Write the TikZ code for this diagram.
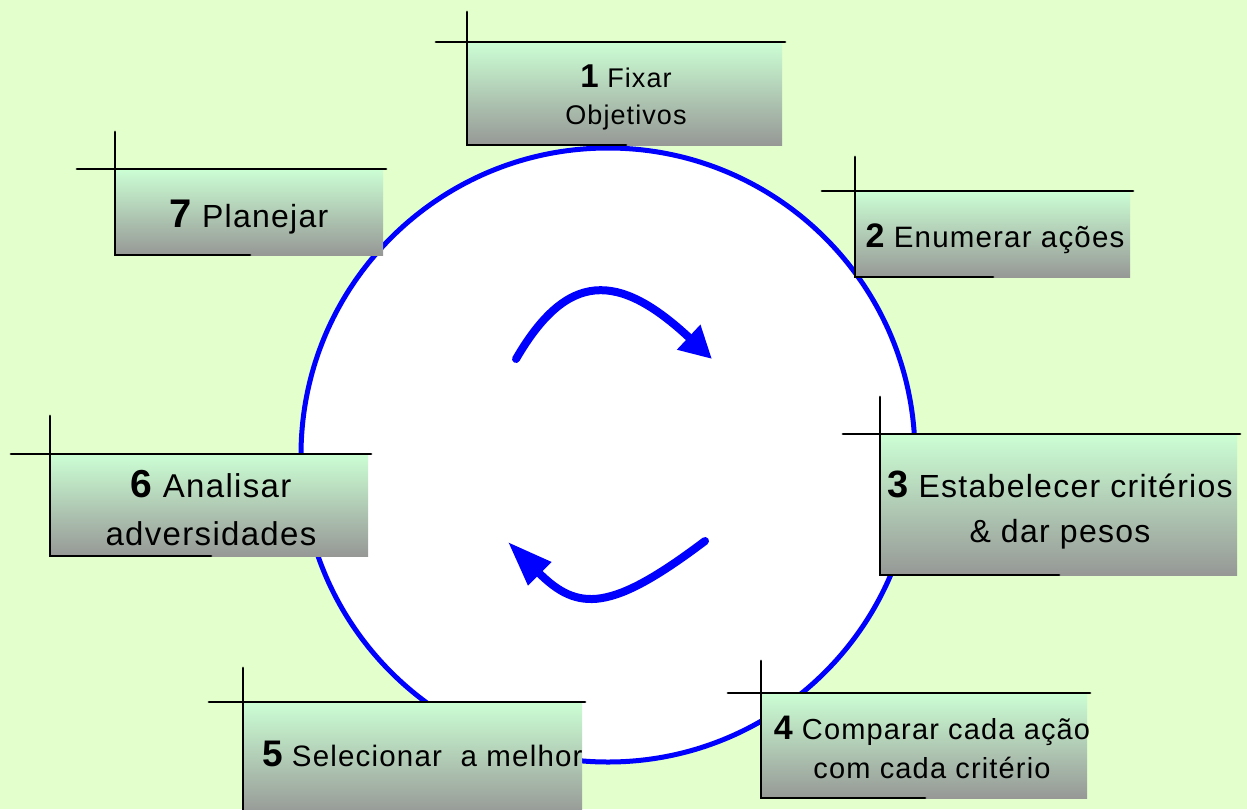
\documentclass[tikz,border=0pt]{standalone}
\usepackage{fontspec}
\setmainfont{Liberation Sans}[LetterSpace=4]
\usetikzlibrary{arrows.meta}
\definecolor{bg}{RGB}{226,255,204}
\definecolor{boxtop}{RGB}{204,255,212}
\definecolor{boxbot}{RGB}{150,152,150}
\definecolor{cblue}{RGB}{0,0,255}
\tikzset{
  boxfill/.style={top color=boxtop, bottom color=boxbot, draw=none, inner sep=0pt, outer sep=0pt},
  rule/.style={line width=2.8pt, black, line cap=round},
  ring/.style={circle, draw=cblue, line width=5pt, fill=white, inner sep=0pt, outer sep=0pt},
  flow/.style={draw=cblue, line width=8pt, line cap=round},
  lbl/.style={anchor=base, inner sep=0pt, outer sep=0pt},
}
\newcommand\num[2]{{\fontsize{#1}{#1}\selectfont\bfseries #2}}
% name, L, T, R, B, vertical top, top-line left, bottom-line end
\newcommand\cbox[8]{%
  \node[boxfill, anchor=north west, minimum width={#4-#2}, minimum height={#5-#3}] (#1) at (#2,-#3) {};
  \draw[rule] (#2,-#6) -- (#2,-#5) -- (#8,-#5);
  \draw[rule] (#7,-#3) -- ({#4+3},-#3);
}
\begin{document}
\begin{tikzpicture}[x=1pt,y=1pt]
\clip (0,0) rectangle (1247,-809);
\fill[bg] (0,0) rectangle (1247,-809);

% cycle ring
\node[ring, minimum size=614pt] (ring) at (608,-455) {};

% inner arrows
\coordinate (a1s) at (516,-359);
\coordinate (a1e) at (712,-359);
\coordinate (a2s) at (705,-541);
\coordinate (a2e) at (508,-542);
\draw[flow, -{Triangle[length=32pt,width=32pt]}] (a1s) .. controls (567,-271) and (618,-271) .. (a1e);
\draw[flow, -{Triangle[length=45pt,width=31pt]}] (a2s) .. controls (611,-612) and (578,-612) .. (a2e);

% boxes
\cbox{b1}{467}{42}{782}{145}{12}{436}{626}
\cbox{b7}{115}{169}{383}{255}{132}{77}{250}
\cbox{b2}{855}{191}{1130}{277}{157}{822}{993}
\cbox{b6}{50}{454}{368}{556}{416}{11}{211}
\cbox{b3}{880}{434}{1237}{575}{397}{843}{1059}
\cbox{b5}{243}{702}{582}{815}{668}{209}{243}
\cbox{b4}{761}{693}{1087}{798}{661}{728}{925}

% labels
\node[lbl] (t1) at (626,-87) {\fontsize{27}{37}\selectfont\begin{tabular}[t]{@{}c@{}}\num{33}{1} Fixar\\Objetivos\end{tabular}};
\node[lbl] (t7) at (249,-227) {\fontsize{32}{40}\selectfont\num{40}{7} Planejar};
\node[lbl] (t2) at (995,-247) {\fontsize{29.5}{36}\selectfont\num{34}{2} Enumerar ações};
\node[lbl] (t6) at (211,-497) {\fontsize{33}{48}\selectfont\begin{tabular}[t]{@{}c@{}}\num{39}{6} Analisar\\adversidades\end{tabular}};
\node[lbl] (t3) at (1060,-497) {\fontsize{32}{45}\selectfont\begin{tabular}[t]{@{}c@{}}\num{38}{3} Estabelecer critérios\\\& dar pesos\end{tabular}};
\node[lbl, anchor=base west] (t5) at (262,-766) {\fontsize{29.5}{40}\selectfont\num{37}{5} Selecionar\ \ a melhor};
\node[lbl] (t4) at (932,-739) {\fontsize{29}{39}\selectfont\begin{tabular}[t]{@{}c@{}}\num{34}{4} Comparar cada ação\\com cada critério\end{tabular}};
\end{tikzpicture}
\end{document}
